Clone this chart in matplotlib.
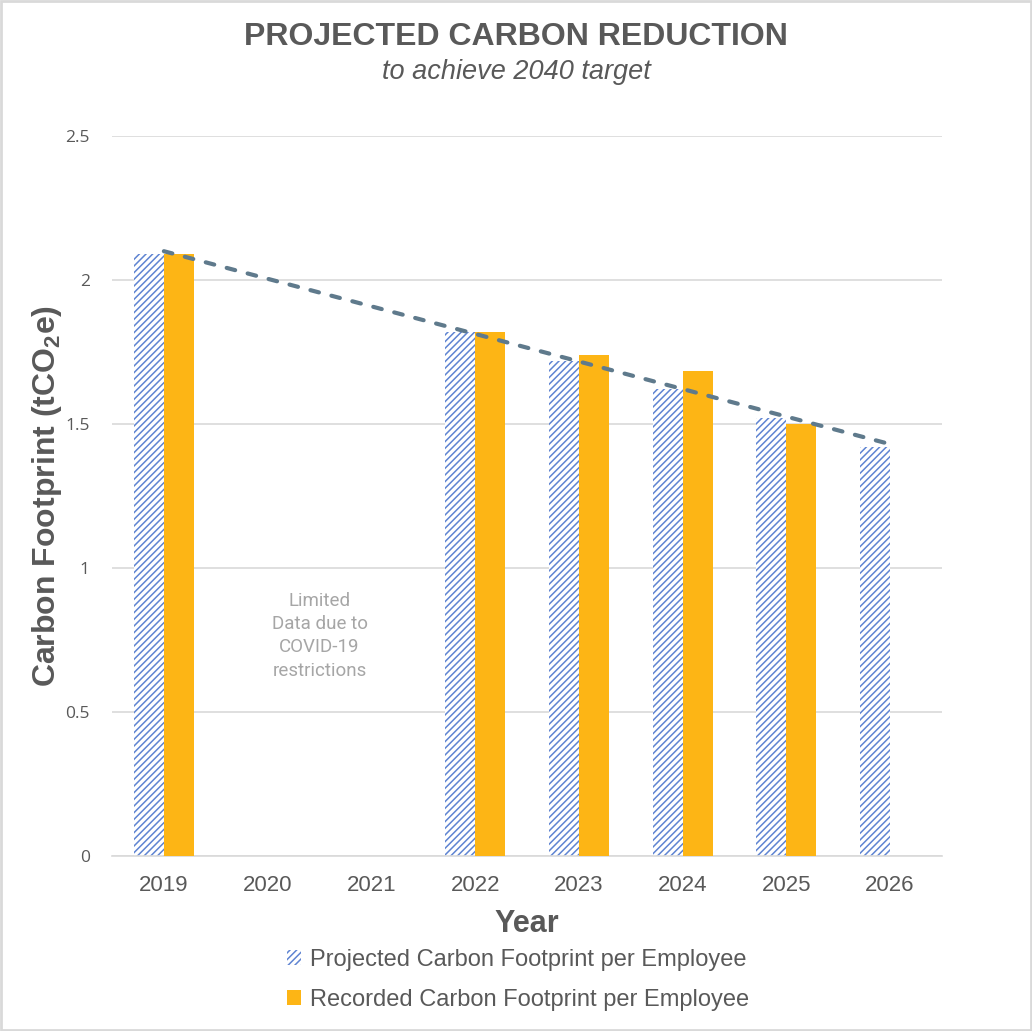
import numpy as np
import matplotlib
matplotlib.use("Agg")
import matplotlib.pyplot as plt
from matplotlib.patches import Rectangle, Patch

# ---- data ----
years = ["2019", "2020", "2021", "2022", "2023", "2024", "2025", "2026"]
projected = [2.09, np.nan, np.nan, 1.82, 1.72, 1.62, 1.52, 1.42]
recorded = [2.09, np.nan, np.nan, 1.82, 1.74, 1.685, 1.50, np.nan]
trend_years = ["2019", "2026"]
trend_values = [2.10, 1.43]
yticks = [0, 0.5, 1, 1.5, 2, 2.5]
ytick_labels = ["0", "0.5", "1", "1.5", "2", "2.5"]
title = "PROJECTED CARBON REDUCTION"
subtitle = "to achieve 2040 target"
note = "Limited\nData due to\nCOVID-19\nrestrictions"
legend_labels = ["Projected Carbon Footprint per Employee",
                 "Recorded Carbon Footprint per Employee"]

GREY = "#595959"
BLUE = "#5F84D2"
GOLD = "#FDB515"

plt.rcParams["hatch.linewidth"] = 1.1

fig = plt.figure(figsize=(10.32, 10.31), dpi=100)
ax = fig.add_axes([112 / 1032, 1 - 856 / 1031, 830 / 1032, 720 / 1031])

x = np.arange(len(years))
w = 0.29
ax.bar(x - w / 2, projected, width=w, facecolor="white", edgecolor=BLUE,
       hatch="/////", linewidth=0, zorder=2)
ax.bar(x + w / 2, recorded, width=w, color=GOLD, linewidth=0, zorder=3)

tx = [years.index(t) for t in trend_years]
ax.plot(tx, trend_values, color="#5F7A8C", lw=3.0, ls=(0, (2.1, 3.1)),
        zorder=4, solid_capstyle="round", dash_capstyle="round")

ax.set_xlim(-0.5, len(years) - 0.5)
ax.set_ylim(0, 2.5)
ax.set_yticks(yticks)
ax.set_yticklabels(ytick_labels, fontfamily="Open Sans", fontsize=12.5, color=GREY)
ax.set_xticks(x)
ax.set_xticklabels(years, fontfamily="Liberation Sans", fontsize=16, color=GREY)
ax.tick_params(axis="both", length=0)
ax.tick_params(axis="y", pad=16)
ax.tick_params(axis="x", pad=14)
ax.grid(axis="y", color="#D9D9D9", lw=1.2, zorder=0)
ax.set_axisbelow(True)
for s in ["top", "right", "left"]:
    ax.spines[s].set_visible(False)
ax.spines["bottom"].set_color("#D9D9D9")
ax.spines["bottom"].set_linewidth(1.2)

ax.set_xlabel("Year", fontfamily="Liberation Sans", fontweight="bold",
              fontsize=22, color=GREY, labelpad=9)
ax.set_ylabel("Carbon Footprint (tCO$_\\mathregular{2}$e)", fontfamily="Liberation Sans",
              fontweight="bold", fontsize=23, color=GREY, labelpad=1)

ax.text(1.5, 0.765, note, ha="center", va="center", fontfamily="Roboto",
        fontsize=13.5, color="#A6A6A6", linespacing=1.38)

fig.text(516 / 1032, 1 - 37 / 1031, title, ha="center", va="center",
         fontfamily="Liberation Sans", fontweight="bold", fontsize=23, color=GREY)
fig.text(516 / 1032, 1 - 72 / 1031, subtitle, ha="center", va="center",
         fontfamily="Liberation Sans", fontstyle="italic", fontsize=19.5, color=GREY)

handles = [Patch(facecolor="white", edgecolor=BLUE, hatch="/////", linewidth=0),
           Patch(facecolor=GOLD, linewidth=0)]
leg = fig.legend(handles, legend_labels, loc="center", bbox_to_anchor=(518 / 1032, 1 - 980 / 1031),
                 frameon=False, prop={"family": "Liberation Sans", "size": 17},
                 handlelength=0.6, handleheight=0.6, handletextpad=0.35, labelspacing=0.75)
for t in leg.get_texts():
    t.set_color(GREY)

fig.patches.append(Rectangle((0.001, 0.001), 0.998, 0.998, transform=fig.transFigure,
                             fill=False, edgecolor="#D9D9D9", lw=2))

fig.savefig("out.png", dpi=100, facecolor="white")
